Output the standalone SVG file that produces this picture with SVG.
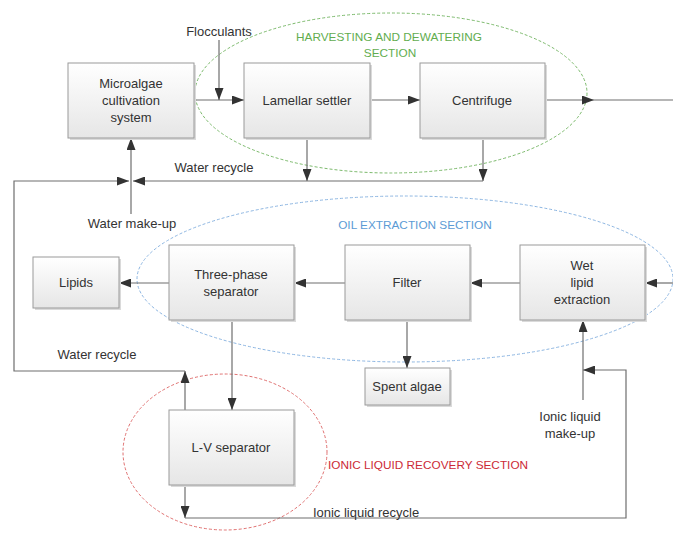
<svg xmlns="http://www.w3.org/2000/svg" width="673" height="533" viewBox="0 0 673 533">
<style>
.box{fill:url(#g);stroke:#9a9a9a;stroke-width:1}
.sh{fill:#dadada}
.t{font-family:"Liberation Sans",Arial,sans-serif;font-size:13px;fill:#333333;text-anchor:middle}
.c{fill:none;stroke:#6e6e6e;stroke-width:1.2}
.a{marker-end:url(#ar)}
.sec{font-family:"Liberation Sans",Arial,sans-serif;font-size:11.8px}
.el{fill:none;stroke-width:1;stroke-dasharray:3 2}
</style>
<defs>
<linearGradient id="g" x1="0" y1="0" x2="0" y2="1">
<stop offset="0" stop-color="#ffffff"/>
<stop offset="1" stop-color="#e6e6e6"/>
</linearGradient>
<marker id="ar" markerWidth="12" markerHeight="9" refX="12" refY="4.5" orient="auto" markerUnits="userSpaceOnUse">
<path d="M0,0 L12,4.5 L0,9 z" fill="#333"/>
</marker>
</defs>
<rect width="673" height="533" fill="#ffffff"/>

<g id="ellipses">
<ellipse class="el" cx="391" cy="93" rx="196" ry="80" stroke="#7cba6c"/>
<ellipse class="el" cx="405" cy="279" rx="268" ry="83" stroke="#8db6e2"/>
<ellipse class="el" cx="225" cy="452" rx="102" ry="78" stroke="#e07070"/>
</g>

<g id="connectors">
<path class="c a" d="M194,100 H244"/>
<path class="c a" d="M219,40 V100"/>
<path class="c a" d="M370,100 H420"/>
<path class="c a" d="M545,100 H594"/>
<path class="c" d="M594,100 H673"/>
<path class="c a" d="M307,138 V181"/>
<path class="c a" d="M483,138 V181"/>
<path class="c a" d="M483,181 H133"/>
<path class="c a" d="M185,410 V371"/>
<path class="c a" d="M185,371 H14 V181 H129"/>
<path class="c a" d="M131,214 V138"/>
<path class="c a" d="M169,283 H119"/>
<path class="c a" d="M345,283 H294"/>
<path class="c a" d="M520,283 H470"/>
<path class="c a" d="M673,283 H645"/>
<path class="c a" d="M407,320 V368"/>
<path class="c a" d="M232,320 V410"/>
<path class="c a" d="M185,485 V518"/>
<path class="c a" d="M185,518 H626 V370 H583"/>
<path class="c a" d="M583,400 V320"/>
</g>

<g id="microalgae">
<rect class="sh" x="70" y="65" width="126" height="75"/>
<rect class="box" x="68" y="63" width="126" height="75"/>
<text class="t" x="131" y="88">Microalgae</text>
<text class="t" x="131" y="105">cultivation</text>
<text class="t" x="131" y="122">system</text>
</g>
<g id="lamellar">
<rect class="sh" x="246" y="65" width="126" height="75"/>
<rect class="box" x="244" y="63" width="126" height="75"/>
<text class="t" x="307" y="105">Lamellar settler</text>
</g>
<g id="centrifuge">
<rect class="sh" x="422" y="65" width="125" height="75"/>
<rect class="box" x="420" y="63" width="125" height="75"/>
<text class="t" x="482" y="105">Centrifuge</text>
</g>
<g id="lipids">
<rect class="sh" x="35" y="259" width="86" height="51"/>
<rect class="box" x="33" y="257" width="86" height="51"/>
<text class="t" x="76" y="287">Lipids</text>
</g>
<g id="threephase">
<rect class="sh" x="171" y="247" width="125" height="75"/>
<rect class="box" x="169" y="245" width="125" height="75"/>
<text class="t" x="231" y="279">Three-phase</text>
<text class="t" x="231" y="296">separator</text>
</g>
<g id="filter">
<rect class="sh" x="347" y="247" width="125" height="75"/>
<rect class="box" x="345" y="245" width="125" height="75"/>
<text class="t" x="407" y="287">Filter</text>
</g>
<g id="wetlipid">
<rect class="sh" x="522" y="247" width="125" height="75"/>
<rect class="box" x="520" y="245" width="125" height="75"/>
<text class="t" x="582" y="270">Wet</text>
<text class="t" x="582" y="287">lipid</text>
<text class="t" x="582" y="304">extraction</text>
</g>
<g id="spentalgae">
<rect class="sh" x="367" y="370" width="85" height="37"/>
<rect class="box" x="365" y="368" width="85" height="37"/>
<text class="t" x="407" y="391">Spent algae</text>
</g>
<g id="lvseparator">
<rect class="sh" x="171" y="412" width="125" height="75"/>
<rect class="box" x="169" y="410" width="125" height="75"/>
<text class="t" x="231" y="452">L-V separator</text>
</g>

<g id="labels">
<text class="t" x="219" y="36">Flocculants</text>
<text class="t" x="214" y="172">Water recycle</text>
<text class="t" x="132" y="228">Water make-up</text>
<text class="t" x="97" y="359">Water recycle</text>
<text class="t" x="570" y="421">Ionic liquid</text>
<text class="t" x="570" y="438">make-up</text>
<text class="t" x="366" y="517">Ionic liquid recycle</text>
<text class="sec" x="389" y="41" text-anchor="middle" fill="#62ad4f">HARVESTING AND DEWATERING</text>
<text class="sec" x="390" y="57" text-anchor="middle" fill="#62ad4f">SECTION</text>
<text class="sec" x="415" y="229" text-anchor="middle" fill="#5b9bd5">OIL EXTRACTION SECTION</text>
<text class="sec" x="428" y="469" text-anchor="middle" fill="#cc2a36">IONIC LIQUID RECOVERY SECTION</text>
</g>
</svg>
